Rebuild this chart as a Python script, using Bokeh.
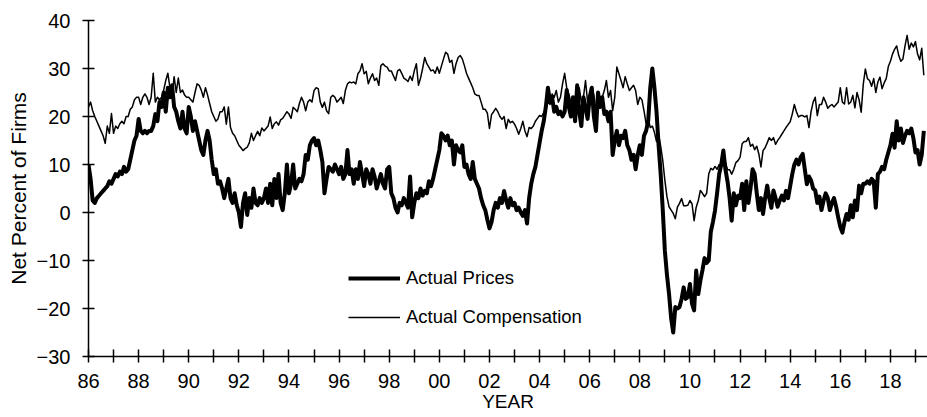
from bokeh.plotting import figure
from bokeh.models import Range1d, FixedTicker, Legend, LegendItem
from bokeh.embed import file_html
from bokeh.resources import INLINE

# ---- data (monthly, Jan 1986 .. May 2019) ----
start_year = 1986

actual_prices = [
    10, 7, 2.5, 2, 3, 3.5, 4, 4.5, 5, 5.5, 6.5, 6,                      # 1986
    7, 8, 7.5, 8.5, 8, 9.5, 8.5, 9, 11, 13, 15, 16,                     # 1987
    19.5, 17, 16.5, 17, 16.5, 17, 17, 18, 20.5, 19, 23, 22,             # 1988
    25, 21, 26, 24, 26.5, 22, 21, 19, 17.5, 21, 17.5, 16.5,             # 1989
    22, 20, 17, 19, 17, 15, 13, 12, 15, 17, 15, 11,                     # 1990
    8, 9, 6, 6.5, 5, 3, 5, 7, 3, 2, 4, 1.5,                             # 1991
    0, -3, 2, 4, -0.5, 3, 1, 5, 2, 1.5, 3, 2,                           # 1992
    3, 5, 2, 6, 1.5, 7, 3, 8, 2, 0.5, 4, 10,                            # 1993
    4, 6, 10, 5, 6, 7, 6.5, 8, 12, 11, 14, 15,                          # 1994
    15.5, 14, 15, 13, 10.5, 4, 7, 9.5, 9, 8.5, 10, 9,                   # 1995
    8, 9.5, 7, 8, 13, 8, 9, 6, 9, 7, 10.5, 8,                           # 1996
    5.5, 9, 8, 6, 9, 7.5, 5, 6.5, 8, 6, 5, 9,                           # 1997
    9.5, 4, 3, 1, 0, 2, 1.5, 3, 2, 1, 7.5, -1,                          # 1998
    2, 4, 3, 5, 3.5, 4.5, 4, 6.5, 5.5, 7, 9, 11,                        # 1999
    13, 16.5, 16, 15, 16, 14, 15, 10, 14, 13, 12.5, 14,                 # 2000
    9.5, 10, 8, 7, 10.5, 7, 6, 5, 3, 1.5, 0.5, -1.5,                    # 2001
    -3.3, -2, 0.5, 2, 1, 3, 2, 4.5, 2.5, 1, 3, 1.5,                     # 2002
    2, 0.5, 1, 0, -0.7, 0.5, -2.3, 3, 6, 8, 9.5, 12,                    # 2003
    14.5, 17, 19, 22, 26, 23, 24, 21, 22, 20.5, 21, 20,                 # 2004
    21, 25.5, 22, 20, 24, 19, 26.5, 21, 18, 24, 22, 19.5,               # 2005
    24, 26, 20, 17, 25, 22, 24, 20.5, 21, 19, 21, 12,                   # 2006
    15, 17, 14, 16, 15.5, 17, 14, 13, 11, 12, 9, 12,                    # 2007
    14, 12, 16, 17, 19, 26, 30, 26, 21, 14, 8, 0.5,                     # 2008
    -8, -13, -17, -22, -25, -19.7, -20, -19.7, -18, -15.6, -18, -17.6,  # 2009
    -14.9, -19, -20.4, -12.1, -17, -14.2, -12, -9.5, -10.5, -10, -4, -2,  # 2010
    0.4, 4, 8, 10, 12.9, 9, 6.5, 3, -1.7, 4, 1.5, 3.5,                  # 2011
    3, 6, 0.5, 6.5, 2, 5, 9, 8, 4, 0.5, 3, -0.3,                        # 2012
    3, 5.6, 3, 1, 4.6, 3, 1.2, 2.5, 3.5, 2.5, 4.5, 3,                   # 2013
    5.5, 8, 10, 11, 10, 11.5, 12.2, 9, 5.9, 7.5, 6.7, 5,                # 2014
    4.6, 2, 3.3, 0.5, 2.5, 4, 3, 0.5, 2, 3, 1.2, -1,                    # 2015
    -3, -4.2, -2, -0.3, -1.5, 1.5, -1, 2.5, 0.5, 5.6, 4, 6,             # 2016
    6, 6.5, 6, 7, 6.5, 1, 8, 8.5, 9.5, 9, 11, 12.5,                     # 2017
    14, 16.4, 13.5, 19, 15, 17.5, 14.5, 16, 17, 16.5, 17.5, 15.5,       # 2018
    12.5, 13, 10, 12, 17,                                               # 2019
]

actual_compensation = [
    22, 23, 21.2, 20, 19, 18, 17, 16, 14.4, 18, 16.5, 20.6,             # 1986
    16.5, 18, 17.5, 18.5, 19, 18.5, 20, 20, 21.5, 22, 23.5, 24,         # 1987
    24, 22.5, 24, 24.7, 24, 22.5, 24, 29, 23, 24, 23.5, 24,             # 1988
    25.5, 27.5, 29, 26, 24, 28.3, 25, 28, 25, 25.5, 24.5, 24,           # 1989
    24, 23.5, 23, 25, 26.8, 26.5, 25.5, 24, 26, 24.5, 22.7, 21,         # 1990
    20, 19, 19.5, 21, 21, 22, 18.4, 22, 17.7, 16.5, 16, 15,             # 1991
    14, 13.5, 12.9, 13.3, 13.6, 14.5, 16.5, 15, 16, 16.9, 16, 17.6,     # 1992
    17, 17.5, 18, 19.9, 17.5, 18.5, 18.9, 18.2, 19.3, 19.6, 20.3, 21,   # 1993
    20.5, 19.6, 21.9, 21.5, 21, 22.7, 24, 23, 21.2, 23, 23.5, 23,       # 1994
    25.4, 26, 25.8, 23, 21.9, 23, 21.2, 20.6, 24, 24.4, 24, 23,         # 1995
    23.5, 24, 22.7, 25.4, 26.8, 27.2, 27, 27.2, 26.8, 28.9, 29.5, 31,   # 1996
    28.9, 29.4, 26.8, 28, 28.9, 27.5, 28, 26.5, 30.6, 31, 30.5, 30.3,   # 1997
    29.5, 29.5, 28.5, 27.5, 29.5, 29.8, 29, 28, 27.7, 27.3, 28.4, 27.5, # 1998
    29.5, 31, 26.5, 28, 30, 32.3, 31, 30.3, 29.5, 29.7, 29, 30.3,       # 1999
    29, 30.5, 32, 33.4, 33, 31.3, 31.7, 29, 31, 32.3, 32.7, 32,         # 2000
    30.6, 29, 28, 27, 26, 24.7, 24.4, 24.4, 23, 21.5, 21.5, 20.7,       # 2001
    17.5, 20.4, 21, 21.7, 21, 20, 19.4, 20, 17.5, 19.4, 18.7, 19,       # 2002
    18.4, 17.5, 16.3, 17.5, 19, 17, 15.8, 17.7, 17.5, 18, 19, 19.6,     # 2003
    20.2, 20, 20.8, 21.7, 23, 22.5, 24.7, 24, 25.4, 23, 24, 26.8,       # 2004
    29, 26, 24.7, 23, 24, 23, 22.5, 26, 23, 24, 27.5, 23,               # 2005
    23, 26, 24.5, 21.2, 24, 23, 24, 25.4, 27.5, 24, 25.4, 21.2,         # 2006
    24, 30.3, 28.9, 27.5, 26, 28.3, 26.8, 25.4, 26, 26.5, 25.4, 22.5,   # 2007
    24, 23.5, 21.2, 18.5, 19.6, 17.7, 18, 16.7, 14.8, 16.3, 13.8, 10.8, # 2008
    6.7, 3.3, 1.2, 0.5, -0.2, -1.3, 1.1, 1.9, 2.9, 1.4, 1.4, 1.5,       # 2009
    2.5, 1.8, -1.7, 1.1, 2.5, 4.6, 4, 3.3, 4, 8, 9.2, 8.9,              # 2010
    9.6, 9, 10, 9.5, 10, 10.4, 8.9, 8.9, 8, 9, 10.4, 10.8,              # 2011
    11.5, 14.3, 14.8, 14.8, 15.6, 13.8, 14.2, 13.1, 13.8, 12.2, 9.5, 12.9,  # 2012
    13.5, 14.5, 15.6, 15, 15.6, 14.2, 15, 15.6, 16.3, 17, 17.7, 18.3,   # 2013
    18.9, 20.5, 22.5, 21, 19.9, 20.2, 20.2, 19.9, 20.2, 17.7, 21, 23,   # 2014
    24, 20.2, 22.5, 22.5, 24, 23, 21.7, 22.2, 22.5, 22, 22.5, 23,       # 2015
    26, 23, 22.6, 26, 22.6, 23, 24.4, 21.8, 25, 23.5, 20.9, 26.7,       # 2016
    29.9, 27.9, 27.5, 26.3, 27.9, 25, 27.2, 28.2, 25.8, 27, 27.9, 30.4, # 2017
    31.5, 33, 34, 34.7, 32.7, 31.5, 32, 34.7, 36.9, 34, 35.3, 34.5,     # 2018
    35.6, 33, 31.8, 34.2, 28.6,                                         # 2019
]

series_names = ["Actual Prices", "Actual Compensation"]
year_ticks = list(range(1986, 2020))
year_labels = {y: (f"{y % 100:02d}" if y % 2 == 0 else "") for y in year_ticks}
value_ticks = [-30, -20, -10, 0, 10, 20, 30, 40]
x_title = "YEAR"
y_title = "Net Percent of Firms"

months = [start_year + i / 12 for i in range(len(actual_prices))]

FONT = "Liberation Sans"

p = figure(width=927, height=417, output_backend="svg", toolbar_location=None,
           x_range=Range1d(1986, 2019.48), y_range=Range1d(-30, 40),
           min_border_left=88, min_border_right=0, min_border_top=20,
           min_border_bottom=61)
p.outline_line_color = None
p.xgrid.visible = False
p.ygrid.visible = False
p.background_fill_color = "white"
p.border_fill_color = "white"

r_comp = p.line(months, actual_compensation, line_width=1.5, color="black",
                line_join="round")
r_price = p.line(months, actual_prices, line_width=4, color="black",
                 line_join="round")

for ax in (p.xaxis[0], p.yaxis[0]):
    ax.axis_line_width = 1.5
    ax.major_tick_line_width = 1.5
    ax.minor_tick_line_color = None
    ax.major_label_text_font = FONT
    ax.major_label_text_font_size = "20px"
    ax.major_label_text_color = "black"
    ax.axis_label_text_font = FONT
    ax.axis_label_text_font_size = "20px"
    ax.axis_label_text_font_style = "normal"
    ax.axis_label_text_color = "black"
    ax.axis_line_color = "black"
    ax.major_tick_line_color = "black"

xa = p.xaxis[0]
xa.ticker = FixedTicker(ticks=year_ticks)
xa.major_label_overrides = year_labels
xa.major_tick_in = 7
xa.major_tick_out = 6
xa.major_label_standoff = 11
xa.axis_label = x_title
xa.axis_label_text_font_size = "19px"
xa.axis_label_standoff = 0

ya = p.yaxis[0]
ya.ticker = FixedTicker(ticks=value_ticks)
ya.major_tick_in = 6
ya.major_tick_out = 6
ya.major_label_standoff = 12
ya.axis_label = y_title
ya.axis_label_text_font_size = "21px"
ya.axis_label_standoff = 4

legend = Legend(
    items=[LegendItem(label=series_names[0], renderers=[r_price]),
           LegendItem(label=series_names[1], renderers=[r_comp])],
    location=(260, 28), orientation="vertical", padding=0, margin=0,
    spacing=17, glyph_width=52, glyph_height=20, label_height=20,
    label_standoff=6, label_text_font=FONT, label_text_font_size="18.5px",
    label_text_color="black", border_line_alpha=0, background_fill_alpha=0)
p.add_layout(legend)

open("out.html", "w").write(file_html(p, INLINE))
